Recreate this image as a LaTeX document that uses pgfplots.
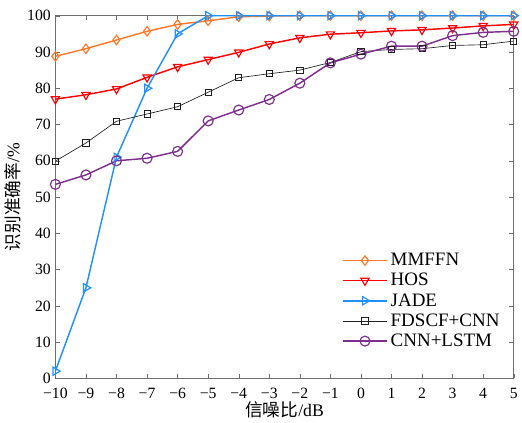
\documentclass[border=0pt]{standalone}
\usepackage{pgfplots}
\pgfplotsset{compat=1.18}
\usepackage{fontspec}
\setmainfont{Liberation Serif}
\newfontfamily\cjk{Noto Sans CJK SC}

\definecolor{cMM}{RGB}{255,120,40}
\definecolor{cHOS}{RGB}{255,0,0}
\definecolor{cJADE}{RGB}{30,144,255}
\definecolor{cFD}{RGB}{30,30,30}
\definecolor{cCL}{RGB}{126,47,142}
\definecolor{axgray}{RGB}{110,110,110}

\begin{document}
\begin{tikzpicture}
\begin{axis}[
    scale only axis,
    width=350pt, height=277pt,
    xmin=-10, xmax=5,
    ymin=0, ymax=100,
    xtick={-10,...,5},
    xticklabels={−10,−9,−8,−7,−6,−5,−4,−3,−2,−1,0,1,2,3,4,5},
    ytick={0,10,...,100},
    tick align=inside,
    major tick length=3.5pt,
    axis line style={axgray},
    tick style={axgray},
    tick label style={font=\fontsize{12}{14}\selectfont},
    xticklabel style={yshift=-4pt},
    /pgf/number format/assume math mode=true,
    xlabel={{\cjk 信噪比}/dB},
    ylabel={{\cjk 识别准确率}/\%},
    label style={font=\fontsize{13.5}{15}\selectfont},
    xlabel style={yshift=5pt},
    ylabel style={yshift=-2pt},
    legend style={draw=none, fill=none, at={(0.616,0.36)}, anchor=north west,
        font=\fontsize{14.5}{16}\selectfont, row sep=0.3pt},
    legend cell align=left,
    legend image code/.code={
        \draw[mark repeat=2, mark phase=2, #1] plot coordinates {(0cm,0cm) (0.6cm,0cm) (1.2cm,0cm)};
    },
]
\addplot[cMM, line width=1.1pt, mark=diamond, mark size=3.6pt, mark options={solid, line width=0.9pt}] coordinates {
(-10,88.8)(-9,90.9)(-8,93.3)(-7,95.7)(-6,97.6)(-5,98.6)(-4,99.7)(-3,99.9)
(-2,100)(-1,100)(0,100)(1,100)(2,100)(3,100)(4,100)(5,100)
};
\addlegendentry{MMFFN}
\addplot[cHOS, line width=1.1pt, mark=triangle, mark size=3.6pt, mark options={solid, rotate=180, line width=0.9pt}] coordinates {
(-10,77.0)(-9,78.2)(-8,79.8)(-7,83.0)(-6,85.9)(-5,87.9)(-4,89.9)(-3,92.2)
(-2,93.9)(-1,94.9)(0,95.3)(1,95.8)(2,96.1)(3,96.6)(4,97.2)(5,97.6)
};
\addlegendentry{HOS}
\addplot[cJADE, line width=1.1pt, mark=triangle, mark size=3.6pt, mark options={solid, rotate=-90, line width=0.9pt}] coordinates {
(-10,2)(-9,25)(-8,61)(-7,80)(-6,95)(-5,100)(-4,100)(-3,100)
(-2,100)(-1,100)(0,100)(1,100)(2,100)(3,100)(4,100)(5,100)
};
\addlegendentry{JADE}
\addplot[cFD, line width=0.5pt, mark=square, mark size=2.4pt, mark options={solid, line width=0.6pt}] coordinates {
(-10,59.9)(-9,64.9)(-8,70.9)(-7,72.9)(-6,74.9)(-5,78.9)(-4,82.9)(-3,84.0)
(-2,85.0)(-1,87.1)(0,90.1)(1,90.7)(2,90.9)(3,91.8)(4,92.0)(5,93.0)
};
\addlegendentry{FDSCF+CNN}
\addplot[cCL, line width=1.1pt, mark=o, mark size=3.8pt, mark options={solid, line width=0.9pt}] coordinates {
(-10,53.5)(-9,56.1)(-8,60.0)(-7,60.7)(-6,62.6)(-5,71.0)(-4,74.0)(-3,76.9)
(-2,81.4)(-1,87.0)(0,89.4)(1,91.6)(2,91.6)(3,94.5)(4,95.4)(5,95.7)
};
\addlegendentry{CNN+LSTM}
\end{axis}
\path ([yshift=12pt]current axis.north);
\end{tikzpicture}
\end{document}
